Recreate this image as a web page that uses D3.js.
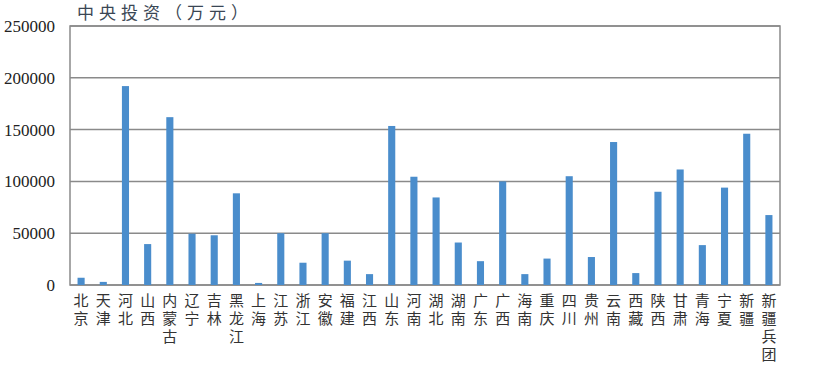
<!DOCTYPE html>
<html>
<head>
<meta charset="utf-8">
<script src="https://cdn.jsdelivr.net/npm/d3@7"></script>
<style>
  body { margin: 0; background: #fff; }
  svg { display: block; }
</style>
</head>
<body>
<svg id="chart"></svg>
<script>
// provinces, read top to bottom (multi-char names are stacked vertically)
const provinces = ["北京", "天津", "河北", "山西", "内蒙古", "辽宁", "吉林", "黑龙江",
  "上海", "江苏", "浙江", "安徽", "福建", "江西", "山东", "河南", "湖北", "湖南",
  "广东", "广西", "海南", "重庆", "四川", "贵州", "云南", "西藏", "陕西", "甘肃",
  "青海", "宁夏", "新疆", "新疆兵团"];

// 中央投资, 万元
const investment = [7000, 3000, 192000, 39500, 162000, 49500, 48000, 88500,
  2000, 50000, 21500, 50000, 23500, 10500, 153500, 104500, 84500, 41000,
  23000, 100000, 10500, 25500, 105000, 27000, 138000, 11500, 90000, 111500,
  38500, 94000, 146000, 67500];

const yTicks = [0, 50000, 100000, 150000, 200000, 250000];
const title = "中央投资（万元）";

const W = 817, H = 371;
const margin = {top: 26, right: 37, bottom: 86, left: 70};
const width = W - margin.left - margin.right;
const height = H - margin.top - margin.bottom;

const svg = d3.select("#chart").attr("width", W).attr("height", H);

const x = d3.scaleBand().domain(provinces).range([0, width]).paddingInner(0.68).paddingOuter(0.34);
const y = d3.scaleLinear().domain([0, 250000]).range([height, 0]);

const g = svg.append("g").attr("transform", `translate(${margin.left},${margin.top})`);

// gridlines
g.append("g")
  .selectAll("line")
  .data(yTicks)
  .join("line")
    .attr("x1", 0).attr("x2", width)
    .attr("y1", d => y(d)).attr("y2", d => y(d))
    .attr("stroke", "#8a8a8a")
    .attr("stroke-width", 1.5);

// frame
g.append("rect")
  .attr("width", width).attr("height", height)
  .attr("fill", "none")
  .attr("stroke", "#8a8a8a")
  .attr("stroke-width", 1.5);

// bars
g.append("g")
  .selectAll("rect")
  .data(provinces)
  .join("rect")
    .attr("x", d => x(d))
    .attr("width", x.bandwidth())
    .attr("y", (d, i) => y(investment[i]))
    .attr("height", (d, i) => height - y(investment[i]))
    .attr("fill", "#4a8dcc");

// y tick labels
g.append("g")
  .selectAll("text")
  .data(yTicks)
  .join("text")
    .attr("x", -15)
    .attr("y", d => y(d))
    .attr("dy", "0.35em")
    .attr("text-anchor", "end")
    .style("font-family", "'Liberation Serif', 'DejaVu Serif', serif")
    .style("font-size", "17px")
    .style("fill", "#222")
    .text(d => d);

// x labels, one character per line
const xl = g.append("g")
  .selectAll("text")
  .data(provinces)
  .join("text")
    .attr("x", d => x(d) + x.bandwidth() / 2)
    .attr("y", height + 21)
    .attr("text-anchor", "middle")
    .style("font-family", "'Noto Sans CJK SC', sans-serif")
    .style("font-size", "15px")
    .style("fill", "#333");

xl.selectAll("tspan")
  .data(d => Array.from(d))
  .join("tspan")
    .attr("x", function() { return this.parentNode.getAttribute("x"); })
    .attr("dy", (c, i) => i === 0 ? 0 : 18)
    .text(c => c);

// title
svg.append("text")
  .attr("x", 77)
  .attr("y", 19)
  .style("font-family", "'Noto Sans CJK SC', sans-serif")
  .style("font-size", "17px")
  .style("letter-spacing", "5px")
  .style("fill", "#3a4654")
  .text(title);
</script>
</body>
</html>
